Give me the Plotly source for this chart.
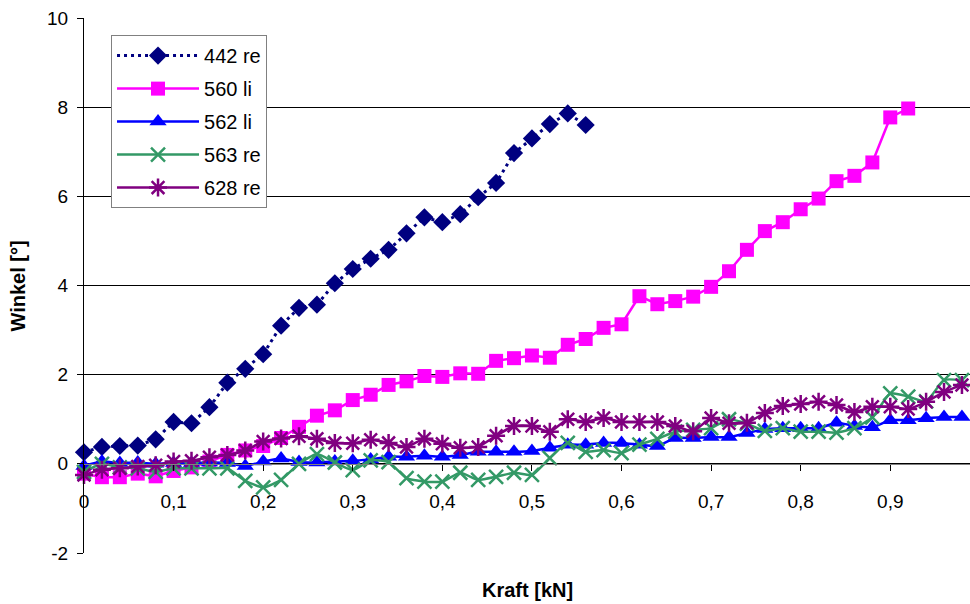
import plotly.graph_objects as go

kraft = [0.00, 0.02, 0.04, 0.06, 0.08, 0.10, 0.12, 0.14, 0.16, 0.18,
         0.20, 0.22, 0.24, 0.26, 0.28, 0.30, 0.32, 0.34, 0.36, 0.38,
         0.40, 0.42, 0.44, 0.46, 0.48, 0.50, 0.52, 0.54, 0.56, 0.58,
         0.60, 0.62, 0.64, 0.66, 0.68, 0.70, 0.72, 0.74, 0.76, 0.78,
         0.80, 0.82, 0.84, 0.86, 0.88, 0.90, 0.92, 0.94, 0.96, 0.98]

s442_re = [0.26, 0.38, 0.40, 0.41, 0.55, 0.94, 0.91, 1.27, 1.82, 2.13,
           2.46, 3.10, 3.50, 3.57, 4.05, 4.37, 4.60, 4.80, 5.17, 5.53,
           5.42, 5.60, 5.98, 6.30, 6.97, 7.30, 7.62, 7.86, 7.60]

s560_li = [-0.22, -0.30, -0.30, -0.22, -0.28, -0.16, -0.08, 0.05, 0.20, 0.30,
           0.40, 0.58, 0.83, 1.08, 1.20, 1.43, 1.55, 1.77, 1.85, 1.97,
           1.95, 2.03, 2.02, 2.31, 2.37, 2.43, 2.38, 2.67, 2.80, 3.05,
           3.13, 3.76, 3.58, 3.65, 3.75, 3.97, 4.32, 4.80, 5.22, 5.42,
           5.71, 5.95, 6.34, 6.46, 6.76, 7.77, 7.97]

s562_li = [-0.05, 0.05, 0.02, 0.03, 0.00, 0.02, 0.02, 0.03, 0.02, -0.05,
           0.05, 0.12, 0.04, 0.03, 0.05, 0.07, 0.10, 0.16, 0.16, 0.18,
           0.16, 0.20, 0.27, 0.27, 0.27, 0.29, 0.36, 0.43, 0.43, 0.47,
           0.47, 0.43, 0.40, 0.58, 0.58, 0.60, 0.60, 0.69, 0.78, 0.80,
           0.80, 0.80, 0.92, 0.85, 0.82, 0.98, 0.98, 1.02, 1.05, 1.05]

s563_re = [-0.18, 0.00, -0.08, -0.10, -0.18, -0.10, -0.10, -0.10, -0.10, -0.38,
           -0.53, -0.36, 0.00, 0.22, 0.03, -0.14, 0.08, 0.04, -0.32, -0.40,
           -0.40, -0.20, -0.36, -0.29, -0.20, -0.25, 0.13, 0.47, 0.27, 0.31,
           0.24, 0.43, 0.56, 0.72, 0.76, 0.80, 1.00, 0.90, 0.74, 0.80,
           0.72, 0.72, 0.70, 0.80, 1.04, 1.58, 1.51, 1.40, 1.88, 1.88]

s628_re = [-0.25, -0.13, -0.10, -0.06, -0.03, 0.05, 0.07, 0.15, 0.20, 0.30,
           0.50, 0.57, 0.62, 0.56, 0.47, 0.46, 0.54, 0.47, 0.38, 0.56,
           0.45, 0.36, 0.38, 0.63, 0.85, 0.85, 0.72, 1.00, 0.94, 1.03,
           0.94, 0.94, 0.94, 0.85, 0.73, 1.03, 0.91, 0.92, 1.14, 1.30,
           1.34, 1.39, 1.32, 1.16, 1.28, 1.28, 1.23, 1.39, 1.61, 1.77]

x_tickvals = [0, 0.1, 0.2, 0.3, 0.4, 0.5, 0.6, 0.7, 0.8, 0.9]
x_ticktext = ["0", "0,1", "0,2", "0,3", "0,4", "0,5", "0,6", "0,7", "0,8", "0,9"]
y_tickvals = [-2, 0, 2, 4, 6, 8, 10]
y_ticktext = ["-2", "0", "2", "4", "6", "8", "10"]

FONT = "Arial, Liberation Sans, sans-serif"
FS = 19

fig = go.Figure()

fig.add_trace(go.Scatter(
    x=kraft[:len(s442_re)], y=s442_re, name="442 re", mode="lines+markers",
    line=dict(color="#000080", width=3, dash="3px,4px"),
    marker=dict(symbol="diamond", size=14, color="#000080"),
    cliponaxis=False, legendgroup="a"))
fig.add_trace(go.Scatter(
    x=kraft[:len(s560_li)], y=s560_li, name="560 li", mode="lines+markers",
    line=dict(color="#FF00FF", width=2.5),
    marker=dict(symbol="square", size=14, color="#FF00FF"),
    cliponaxis=False, legendgroup="b"))
fig.add_trace(go.Scatter(
    x=kraft[:len(s562_li)], y=s562_li, name="562 li", mode="lines+markers",
    line=dict(color="#0000FF", width=2.5, shape="spline", smoothing=0.5),
    marker=dict(symbol="triangle-up", size=15, color="#0000FF"),
    cliponaxis=False, legendgroup="c"))
fig.add_trace(go.Scatter(
    x=kraft[:len(s563_re)], y=s563_re, name="563 re", mode="lines+markers",
    line=dict(color="#339966", width=2.5, shape="spline", smoothing=0.5),
    marker=dict(symbol="x-thin-open", size=14, color="#339966",
                line=dict(color="#339966", width=2.5)),
    cliponaxis=False, legendgroup="d"))
fig.add_trace(go.Scatter(
    x=kraft[:len(s628_re)], y=s628_re, name="628 re", mode="lines+markers",
    line=dict(color="#800080", width=2.5, shape="spline", smoothing=0.5),
    marker=dict(symbol="asterisk-open", size=15, color="#800080",
                line=dict(color="#800080", width=2.5)),
    cliponaxis=False, legendgroup="e"))

fig.update_layout(
    width=970, height=604,
    margin=dict(l=84, r=0, t=18, b=51),
    paper_bgcolor="white", plot_bgcolor="white",
    font=dict(family=FONT, size=FS, color="black"),
    showlegend=True,
    legend=dict(x=0.0305, y=0.968, xanchor="left", yanchor="top",
                bgcolor="white", bordercolor="#808080", borderwidth=1,
                font=dict(family=FONT, size=20, color="black"),
                itemwidth=82, tracegroupgap=4),
    xaxis=dict(range=[0, 0.989], anchor="free", position=2/12,
               tickvals=x_tickvals, ticktext=x_ticktext,
               showgrid=False, zeroline=False, showline=True,
               linecolor="#808080", linewidth=1,
               ticks="outside", ticklen=6, tickcolor="black",
               ticklabelstandoff=14,
               tickfont=dict(family=FONT, size=FS, color="black")),
    yaxis=dict(range=[-2, 10], tickvals=y_tickvals, ticktext=y_ticktext,
               showgrid=True, gridcolor="#000000", gridwidth=1,
               zeroline=False, showline=True, linecolor="#000000", linewidth=1,
               ticks="outside", ticklen=6, tickcolor="black",
               ticklabelstandoff=5,
               tickfont=dict(family=FONT, size=FS, color="black")),
    annotations=[
        dict(text="<b>Kraft [kN]</b>", xref="paper", yref="paper",
             x=0.5, y=-0.069, xanchor="center", yanchor="middle",
             showarrow=False, font=dict(family=FONT, size=20, color="black")),
        dict(text="<b>Winkel [°]</b>", xref="paper", yref="paper",
             x=-0.0745, y=0.5, xanchor="center", yanchor="middle",
             textangle=-90, showarrow=False,
             font=dict(family=FONT, size=20, color="black")),
    ],
)

fig.write_html("out.html")
